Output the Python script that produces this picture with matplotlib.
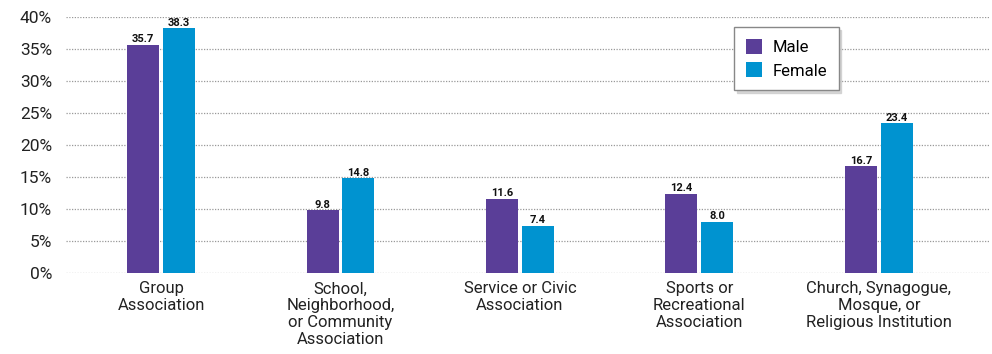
import matplotlib
matplotlib.use("Agg")
import matplotlib.pyplot as plt
import numpy as np

categories = [
    "Group\nAssociation",
    "School,\nNeighborhood,\nor Community\nAssociation",
    "Service or Civic\nAssociation",
    "Sports or\nRecreational\nAssociation",
    "Church, Synagogue,\nMosque, or\nReligious Institution",
]
male = [35.7, 9.8, 11.6, 12.4, 16.7]
female = [38.3, 14.8, 7.4, 8.0, 23.4]
yticks = [0, 5, 10, 15, 20, 25, 30, 35, 40]

purple = "#5A3E98"
blue = "#0093D0"
font = ["Roboto", "DejaVu Sans"]
plt.rcParams["font.family"] = font

fig = plt.figure(figsize=(9.92, 3.54), dpi=100)
ax = fig.add_axes([0.0665, 0.2288, 0.9315, 0.7232])

x = np.arange(len(categories))
w = 0.178
gap = 0.011
b1 = ax.bar(x - w / 2 - gap, male, width=w, color=purple, label="Male", zorder=3)
b2 = ax.bar(x + w / 2 + gap, female, width=w, color=blue, label="Female", zorder=3)

for bars, vals in ((b1, male), (b2, female)):
    for r, v in zip(bars, vals):
        ax.text(r.get_x() + r.get_width() / 2, v + 0.05, f"{v:.1f}",
                ha="center", va="bottom", fontsize=8, fontweight="bold",
                color="#111111", zorder=4)

ax.set_xlim(-0.53, 4.62)
ax.set_ylim(0, 40)
ax.set_yticks(yticks)
ax.set_yticklabels([f"{t}%" for t in yticks], fontsize=12.5, color="#222222")
ax.set_xticks(x)
ax.set_xticklabels(categories, fontsize=12, color="#222222", linespacing=1.15)
ax.tick_params(axis="both", length=0)
ax.tick_params(axis="y", pad=10)
ax.tick_params(axis="x", pad=6)
ax.grid(axis="y", linestyle=(0, (1, 1.2)), color="#999999", linewidth=0.9, zorder=0)
for s in ax.spines.values():
    s.set_visible(False)

leg = ax.legend(loc="upper left", bbox_to_anchor=(734 / 992, 1 - 27 / 354),
                bbox_transform=fig.transFigure, borderaxespad=0, frameon=True,
                shadow={"color": "#cccccc", "alpha": 0.8},
                fancybox=False, fontsize=12, handlelength=1.0, handleheight=1.0,
                borderpad=0.7, labelspacing=0.45, handletextpad=0.6)
leg.get_frame().set_edgecolor("#888888")
leg.get_frame().set_linewidth(1.0)

fig.savefig("out.png", dpi=100)
